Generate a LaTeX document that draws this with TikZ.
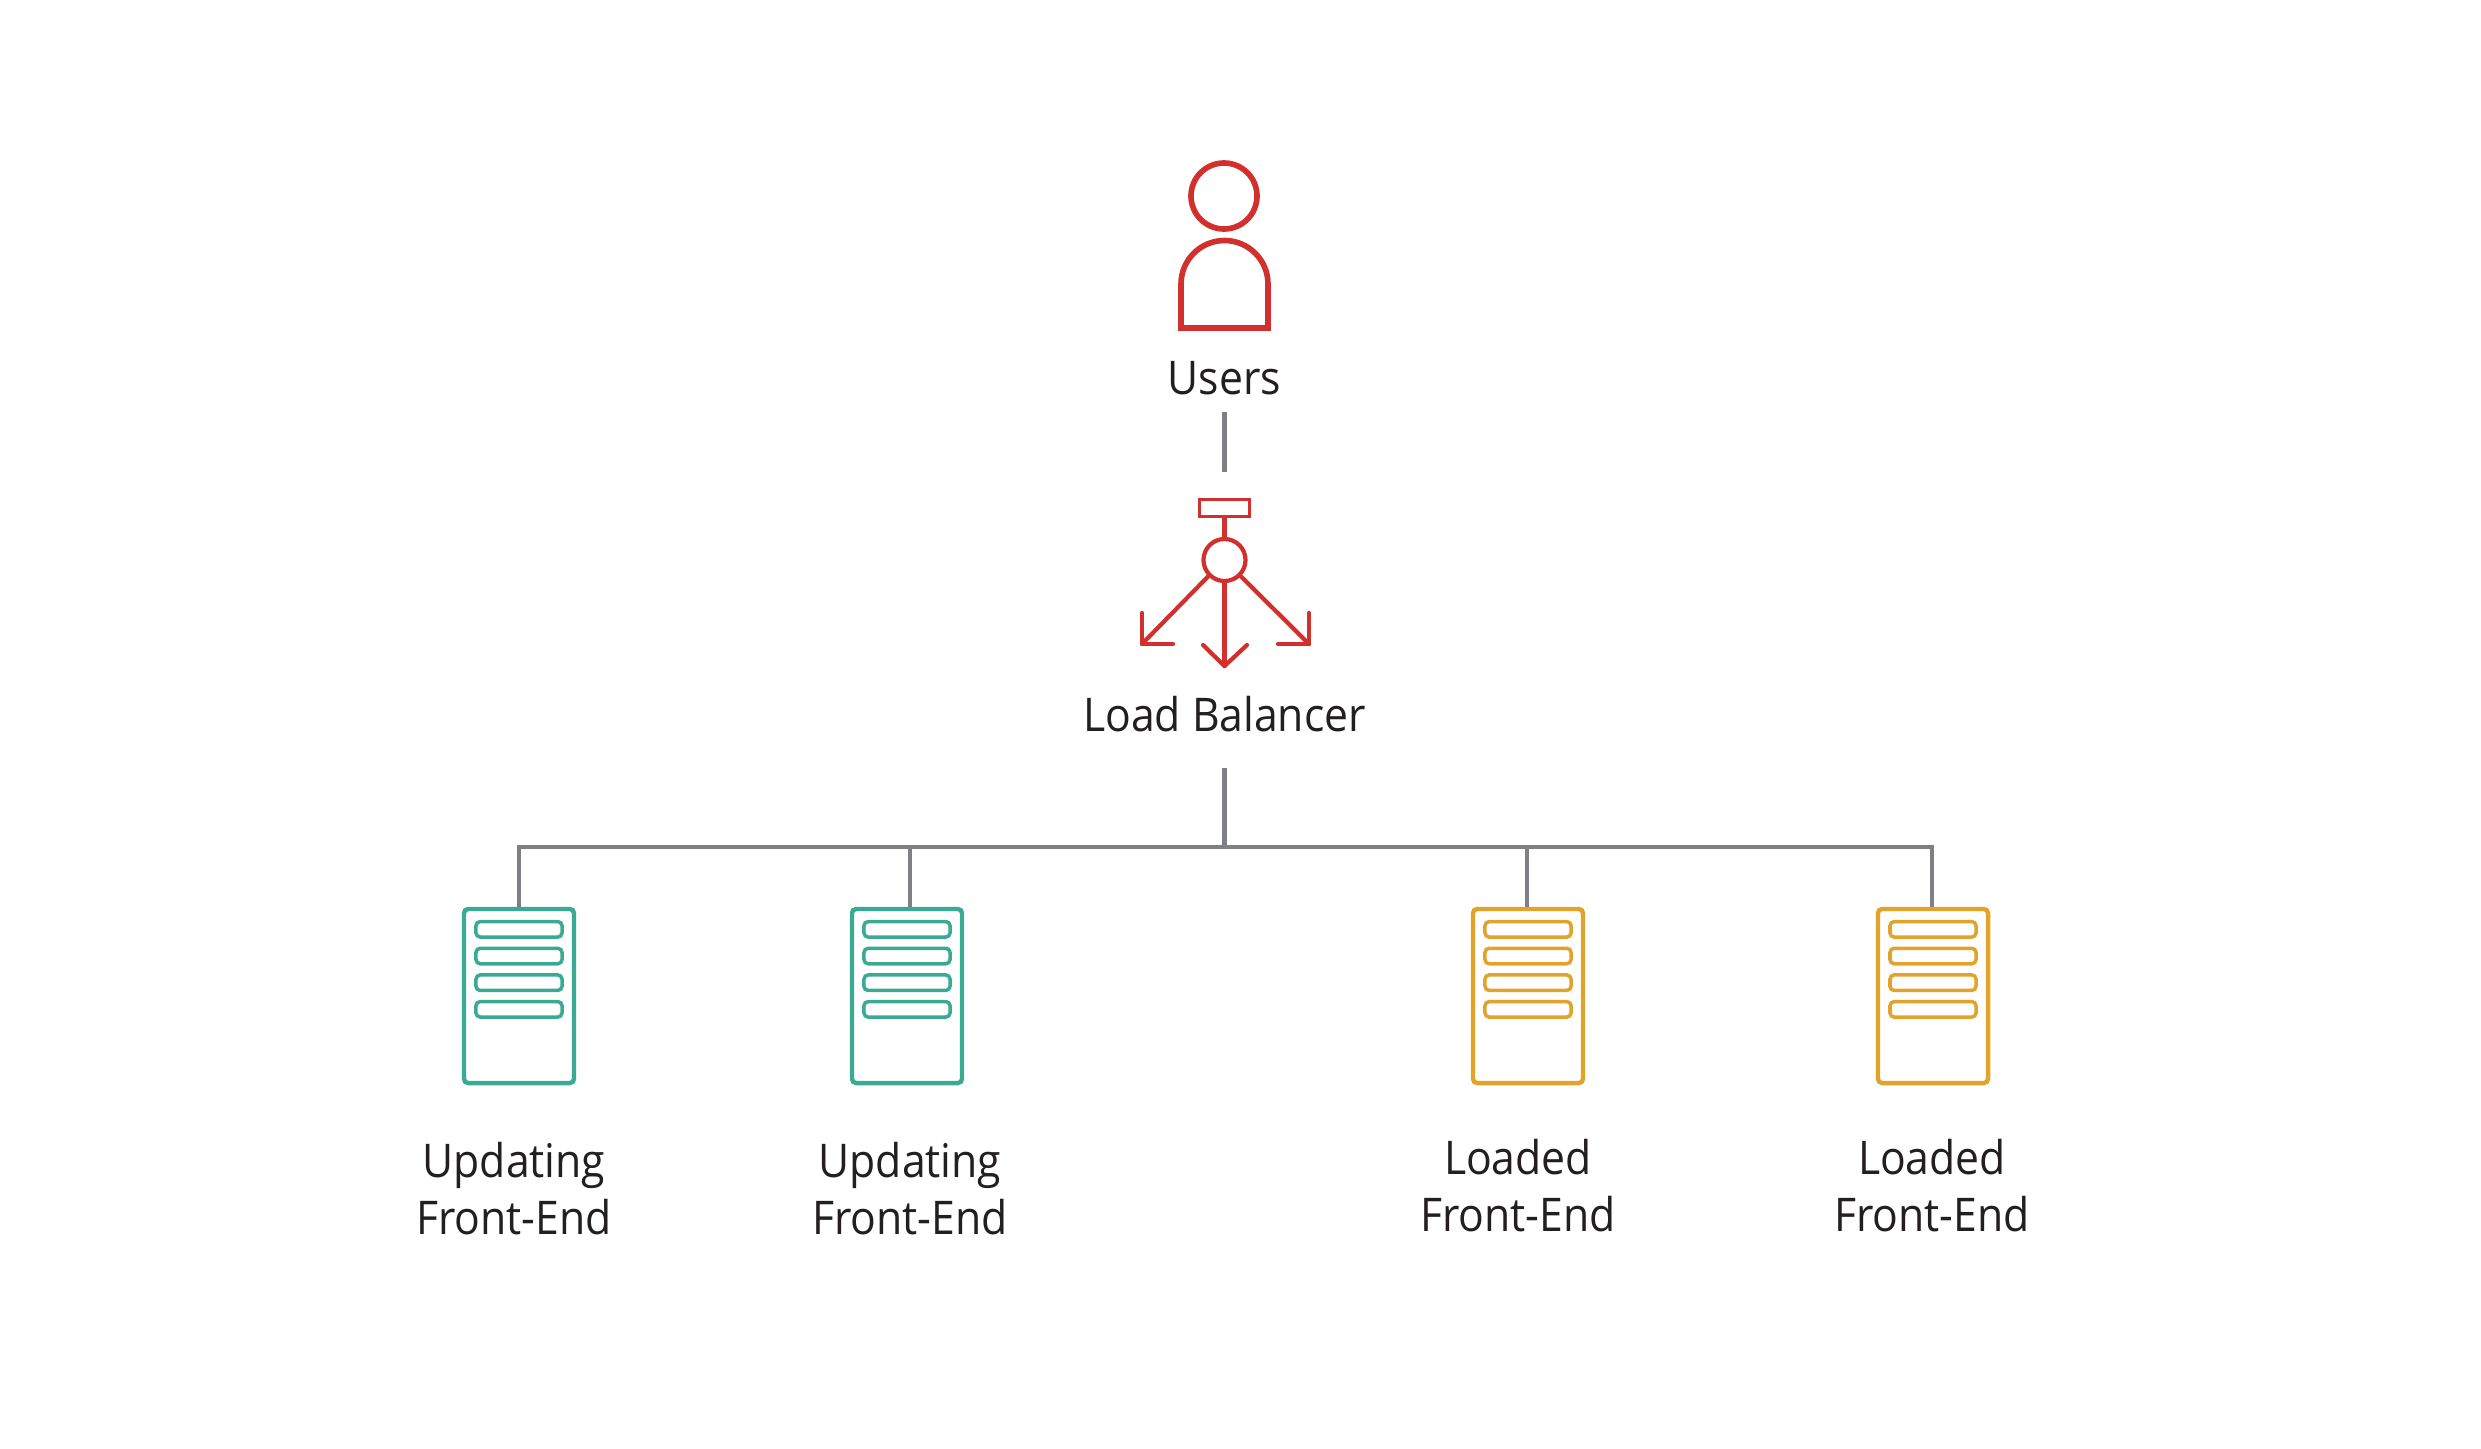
\documentclass[tikz,border=0pt]{standalone}
\usepackage{fontspec}
\setmainfont[FakeStretch=0.92]{Open Sans}
\usetikzlibrary{positioning,calc}
\definecolor{alertred}{HTML}{D2302C}
\definecolor{updgreen}{HTML}{3BAA94}
\definecolor{loadgold}{HTML}{E2A32B}
\definecolor{wiregray}{HTML}{7F8083}
\definecolor{inkblack}{HTML}{231F20}
\tikzset{
  x=0.01cm,y=-0.01cm,
  wire/.style={draw=wiregray,line width=1.2pt},
  redline/.style={draw=alertred,line width=1.2pt,line cap=round,line join=round},
  caption/.style={inner sep=0pt,text=inkblack,font=\fontsize{13.2}{16}\selectfont,anchor=base},
  serverbox/.style={draw=#1,line width=1.25pt,rounded corners=1.2pt,minimum width=1.10cm,minimum height=1.74cm,inner sep=0pt},
  slotbox/.style={draw=#1,line width=1pt,rounded corners=1.2pt,minimum width=0.86cm,minimum height=0.155cm,inner sep=0pt},
}
\begin{document}
\begin{tikzpicture}
  \useasboundingbox (0,0) rectangle (2481,1448);
  % user
  \node[draw=alertred,line width=1.6pt,circle,minimum size=0.66cm,inner sep=0pt] (usersHead) at (1224,196) {};
  \draw[redline,line width=1.6pt,line join=miter] (1181,328) -- (1181,284) arc[start angle=180,end angle=360,radius=43.5] -- (1268,328) -- cycle;
  \node[caption] (usersLabel) at (1224.5,394) {Users};
  % balancer
  \node[draw=alertred,line width=1.05pt,minimum width=0.5cm,minimum height=0.17cm,inner sep=0pt] (lbBox) at (1224.5,508) {};
  \node[draw=alertred,line width=1.2pt,circle,minimum size=0.42cm,inner sep=0pt] (lbHub) at (1224.5,560) {};
  \draw[redline] (lbBox.south) -- (lbHub.north);
  \coordinate (tipL) at (1142,644);
  \coordinate (tipM) at (1224.5,666);
  \coordinate (tipR) at (1309,644);
  \draw[redline] (lbHub.225) -- (tipL);
  \draw[redline] (lbHub.south) -- (tipM);
  \draw[redline] (lbHub.315) -- (tipR);
  \draw[redline] (1142,613) -- (tipL) -- (1173,644);
  \draw[redline] (1203,645) -- (tipM) -- (1247,645);
  \draw[redline] (1278,644) -- (tipR) -- (1309,613);
  \node[caption] (lbLabel) at (1224.5,731) {Load Balancer};
  % servers
  \foreach \name/\xs/\col in {srvA/519/updgreen,srvB/907/updgreen,srvC/1528/loadgold,srvD/1933/loadgold}{
    \node[serverbox=\col] (\name) at (\xs,996) {};
    \foreach \ys in {929.3,956,982.7,1009.3}
      \node[slotbox=\col] at (\xs,\ys) {};
  }
  \node[caption,align=center,anchor=center] (txtA) at (514,1188.5) {Updating\\Front-End};
  \node[caption,align=center,anchor=center] (txtB) at (910,1188.5) {Updating\\Front-End};
  \node[caption,align=center,anchor=center] (txtC) at (1518,1185.5) {Loaded\\Front-End};
  \node[caption,align=center,anchor=center] (txtD) at (1932,1185.5) {Loaded\\Front-End};
  % wires
  \coordinate (busHub) at (1224.5,847);
  \draw[wire,shorten <=0.17cm,shorten >=0.26cm] (usersLabel.south) -- (lbBox.north);
  \draw[wire,shorten <=0.36cm] (lbLabel.south) -- (busHub);
  \foreach \name/\off in {srvA/0,srvB/3,srvC/-1,srvD/-1}
    \draw[wire] ([xshift=\off*0.01cm]\name.north) |- (busHub);
\end{tikzpicture}
\end{document}
